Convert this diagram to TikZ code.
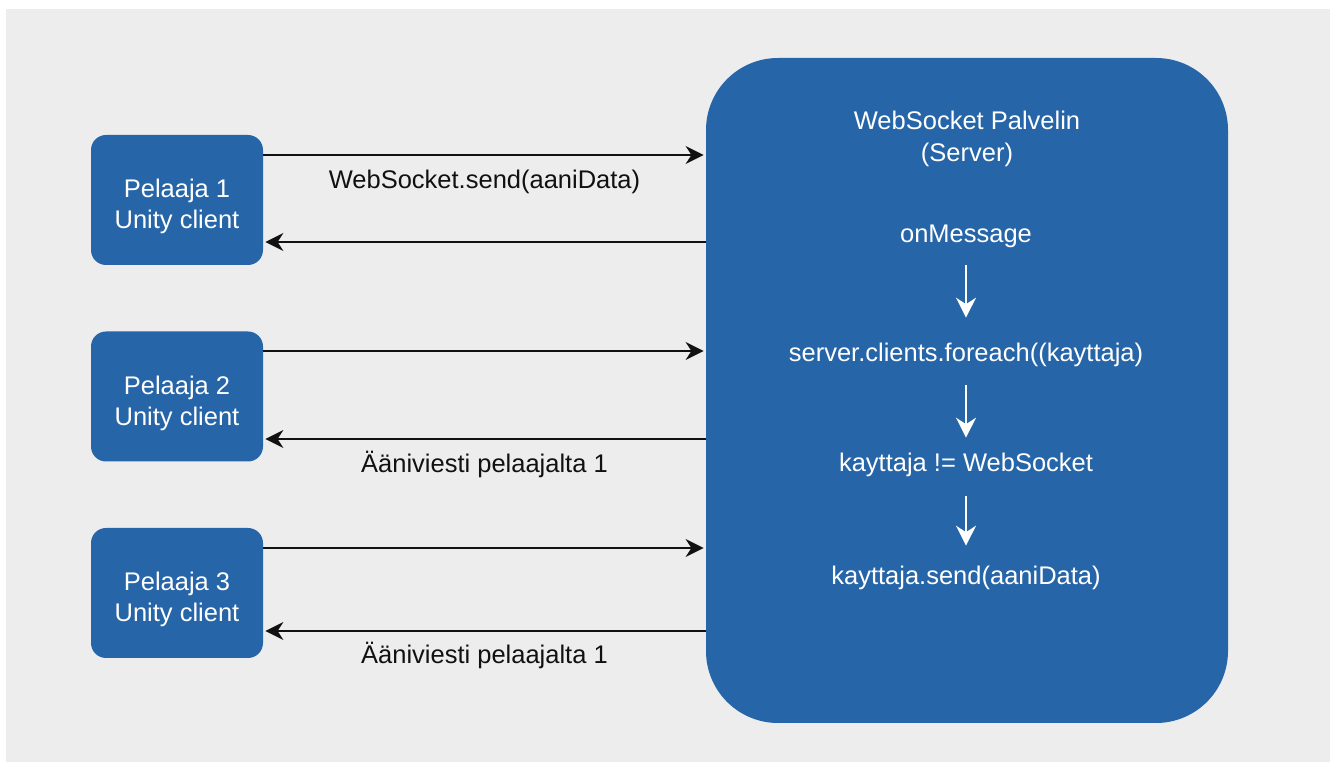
\documentclass[tikz,border=0pt]{standalone}
\usepackage{fontspec}
\setmainfont{Liberation Sans}
\usetikzlibrary{arrows.meta}
\definecolor{boxblue}{RGB}{38,101,168}
\definecolor{bggray}{RGB}{237,237,237}
\definecolor{inkblack}{RGB}{17,17,17}

\begin{document}
\begin{tikzpicture}[x=0.5pt,y=-0.5pt,>={Stealth[length=9pt,width=9pt]},shorten >=1pt,
  client node/.style={fill=boxblue,rounded corners=7.5pt,minimum width=86pt,minimum height=65pt,align=center,text=white,font=\fontsize{12.75}{15.5}\selectfont,text height=32pt,text depth=3pt},
  server node/.style={fill=boxblue,rounded corners=36pt,minimum width=261pt,minimum height=332.5pt},
  title text/.style={text=white,align=center,font=\fontsize{12.75}{16}\selectfont},
  flow text/.style={text=white,font=\fontsize{12.75}{16}\selectfont,inner sep=0pt,text height=9.5pt,text depth=3pt},
  msg text/.style={text=inkblack,font=\fontsize{12.75}{15.5}\selectfont},
  wire/.style={color=inkblack,line width=1pt},
  flow/.style={color=white,line width=0.8pt,shorten >=0pt,-{Stealth[length=10pt,width=10pt]}}]
                \useasboundingbox (0,0) rectangle (1335,764);
                \fill[bggray] (6,9) rectangle (1330,762);

                % clients
                \node[client node] (c1) at (177,200) {Pelaaja 1\\Unity client};
                \node[client node] (c2) at (177,396.5) {Pelaaja 2\\Unity client};
                \node[client node] (c3) at (177,593) {Pelaaja 3\\Unity client};

                % server
                \node[server node] (srv) at (967,390.5) {};
                \node[title text] (title) at (967,139) {WebSocket Palvelin\\(Server)};
                \node[flow text] (msg) at (966,235.6) {onMessage};
                \node[flow text] (loop) at (966,354.6) {server.clients.foreach((kayttaja)};
                \node[flow text] (check) at (966,464.6) {kayttaja != WebSocket};
                \node[flow text] (send) at (966,577.6) {kayttaja.send(aaniData)};

                \path[flow]
                    (msg) edge [shorten <=8.5pt, shorten >=12pt] (loop)
                    (loop) edge [shorten <=9pt, shorten >=7pt] (check)
                    (check) edge [shorten <=9.5pt, shorten >=9.5pt] (send)
                ;

                % wires
                \coordinate (c1out) at ([yshift=22.5pt]c1.east);
                \coordinate (c1in) at ([yshift=-21pt]c1.east);
                \coordinate (c2out) at ([yshift=22.75pt]c2.east);
                \coordinate (c2in) at ([yshift=-21.25pt]c2.east);
                \coordinate (c3out) at ([yshift=22.5pt]c3.east);
                \coordinate (c3in) at ([yshift=-19pt]c3.east);

                \path[wire]
                    (c1out) edge [->] node [msg text, yshift=-13.3pt] {WebSocket.send(aaniData)} (c1out -| srv.west)
                    (c1in -| srv.west) edge [->] (c1in)
                    (c2out) edge [->] (c2out -| srv.west)
                    (c2in -| srv.west) edge [->] node [msg text, yshift=-12.5pt] {Ääniviesti pelaajalta 1} (c2in)
                    (c3out) edge [->] (c3out -| srv.west)
                    (c3in -| srv.west) edge [->] node [msg text, yshift=-12pt] {Ääniviesti pelaajalta 1} (c3in)
                ;

            \end{tikzpicture}
\end{document}
